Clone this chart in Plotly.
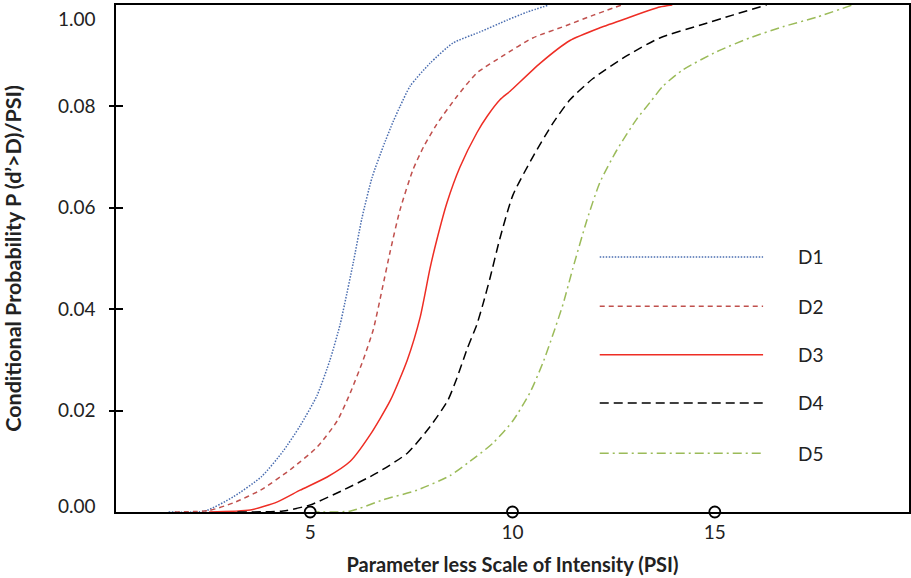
import plotly.graph_objects as go

# ---------------- data ----------------
series_names = ["D1", "D2", "D3", "D4", "D5"]

d1_x = [1.5, 2.4, 3.1, 3.8, 4.33, 4.75, 5.17, 5.49, 5.74, 5.85, 6.06, 6.28, 6.53, 6.8,
        7.05, 7.22, 7.47, 7.96, 8.53, 9.2, 9.86, 10.36, 10.9]
d1_y = [0.0, 0.0002, 0.003, 0.007, 0.012, 0.017, 0.023, 0.030, 0.037, 0.041, 0.049, 0.058,
        0.066, 0.072, 0.077, 0.080, 0.084, 0.0885, 0.0925, 0.0947, 0.097, 0.0986, 0.100]

d2_x = [1.65, 2.5, 3.1, 3.77, 4.5, 5.17, 5.67, 5.99, 6.31, 6.56, 6.78, 6.98, 7.22, 7.54,
        7.8, 8.13, 8.63, 9.12, 9.77, 10.5, 11.35, 12.0, 12.7]
d2_y = [0.0, 0.0003, 0.0018, 0.0043, 0.0083, 0.0128, 0.018, 0.0235, 0.030, 0.036, 0.044,
        0.0515, 0.0596, 0.0675, 0.072, 0.0765, 0.082, 0.0866, 0.090, 0.0935, 0.096, 0.098,
        0.100]

d3_x = [2.5, 3.52, 4.19, 4.75, 5.42, 5.99, 6.48, 6.98, 7.4, 7.72, 7.96, 8.13, 8.38, 8.7,
        9.12, 9.37, 9.69, 9.94, 10.68, 11.42, 12.16, 12.83, 13.64, 13.95]
d3_y = [0.0, 0.0004, 0.002, 0.0043, 0.0069, 0.0100, 0.0152, 0.022, 0.030, 0.0385, 0.048,
        0.0537, 0.061, 0.068, 0.0748, 0.078, 0.0813, 0.083, 0.0885, 0.093, 0.0955, 0.0974,
        0.0996, 0.100]

d4_x = [3.2, 4.33, 5.0, 5.81, 6.65, 7.4, 7.96, 8.4, 8.63, 8.88, 9.12, 9.27, 9.44, 9.69,
        10.01, 10.5, 11.0, 11.42, 11.99, 12.83, 13.64, 14.63, 15.44, 16.28]
d4_y = [0.0, 0.0002, 0.0014, 0.0043, 0.0077, 0.0116, 0.0168, 0.022, 0.0265, 0.0322, 0.037,
        0.041, 0.046, 0.054, 0.0625, 0.070, 0.0767, 0.0813, 0.0855, 0.090, 0.0935, 0.096,
        0.098, 0.100]

d5_x = [5.0, 6.0, 6.8, 7.64, 8.46, 8.9, 9.52, 10.01, 10.43, 10.75, 11.0, 11.25, 11.49,
        11.84, 12.16, 12.58, 13.07, 13.4, 13.72, 14.21, 15.05, 15.86, 16.68, 17.52, 18.4]
d5_y = [0.0, 0.0002, 0.0024, 0.0043, 0.0072, 0.0097, 0.0136, 0.018, 0.0235, 0.0294, 0.035,
        0.041, 0.048, 0.0576, 0.065, 0.0714, 0.0775, 0.0808, 0.0840, 0.0872, 0.0908, 0.0935,
        0.0957, 0.0976, 0.100]

x_tick_values = [5, 10, 15]
x_tick_labels = ["5", "10", "15"]
y_tick_marks = [0.02, 0.04, 0.06, 0.08]
y_label_positions = [0.0012, 0.02, 0.04, 0.06, 0.08, 0.0972]
y_tick_labels = ["0.00", "0.02", "0.04", "0.06", "0.08", "1.00"]

x_title = "Parameter less Scale of Intensity (PSI)"
y_title = "Conditional Probability P (d\u2019>D)/PSI)"

# ---------------- styles ----------------
colors = ["#4a6db0", "#c0504d", "#ee2d24", "#000000", "#9bbb59"]
dashes = ["1.5px,1.5px", "5px,4px", "solid", "9px,5px", "9px,4px,2px,4px"]
FONT = "Lato"

xs = [d1_x, d2_x, d3_x, d4_x, d5_x]
ys = [d1_y, d2_y, d3_y, d4_y, d5_y]

fig = go.Figure()
for name, x, y, c, d in zip(series_names, xs, ys, colors, dashes):
    fig.add_trace(go.Scatter(
        x=x, y=y, mode="lines", name=name, showlegend=False,
        line=dict(color=c, width=1.5, dash=d, shape="spline", smoothing=0.6),
    ))

# open circles on the x-axis at the labelled values
fig.add_trace(go.Scatter(
    x=x_tick_values, y=[0] * len(x_tick_values), mode="markers", showlegend=False,
    cliponaxis=False, hoverinfo="skip",
    marker=dict(size=11, color="white", line=dict(color="black", width=1.8)),
))

# dummy trace for the tick-only overlay axis
fig.add_trace(go.Scatter(x=[None], y=[None], yaxis="y2", showlegend=False))

# custom legend (long line samples as in the reference)
leg_rows = [0.503, 0.406, 0.310, 0.215, 0.116]
for name, c, d, ry in zip(series_names, colors, dashes, leg_rows):
    fig.add_shape(type="line", xref="paper", yref="paper", x0=0.610, x1=0.816, y0=ry, y1=ry,
                  line=dict(color=c, width=1.5, dash=d))
    fig.add_annotation(xref="paper", yref="paper", x=0.857, y=ry, text=name,
                       showarrow=False, xanchor="left", yanchor="middle",
                       font=dict(family=FONT, size=19, color="#222"))

axis_font = dict(family=FONT, size=19, color="#222")
x_title_font = dict(family=FONT, size=20, color="#222", weight="bold")
y_title_font = dict(family=FONT, size=21.5, color="#222", weight="bold")

fig.update_layout(
    width=911, height=578,
    margin=dict(l=116, r=2, t=5, b=66, autoexpand=False),
    plot_bgcolor="white", paper_bgcolor="white",
    xaxis=dict(
        range=[0.2, 19.8], showgrid=False, zeroline=False, automargin=False,
        showline=True, linecolor="black", linewidth=1.5, mirror=True,
        tickvals=x_tick_values, ticktext=x_tick_labels,
        ticks="outside", ticklen=2, tickcolor="rgba(0,0,0,0)",
        tickfont=axis_font,
        title=dict(text=x_title, font=x_title_font, standoff=16),
    ),
    yaxis=dict(
        range=[0, 0.1], showgrid=False, zeroline=False, automargin=False,
        showline=True, linecolor="black", linewidth=1.5, mirror=True,
        tickvals=y_label_positions, ticktext=y_tick_labels,
        ticks="outside", ticklen=15, tickcolor="rgba(0,0,0,0)",
        tickfont=axis_font,
        title=dict(text=y_title, font=y_title_font, standoff=30),
    ),
    yaxis2=dict(
        range=[0, 0.1], overlaying="y", anchor="free", position=7 / 793,
        showgrid=False, zeroline=False, showline=False, showticklabels=False,
        automargin=False,
        tickvals=y_tick_marks, ticks="outside", ticklen=14, tickwidth=1.5,
        tickcolor="black",
    ),
)

fig.write_html("out.html", config={"displayModeBar": False},
               post_script="document.body.style.margin='0';document.body.style.overflow='hidden';")
